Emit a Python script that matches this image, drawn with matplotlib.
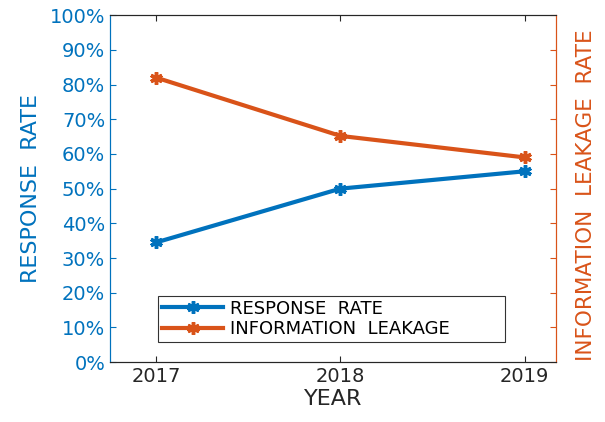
import matplotlib
matplotlib.use("Agg")
import matplotlib.pyplot as plt

# Data
years = [2017, 2018, 2019]
response_rate = [0.345, 0.50, 0.55]
leakage = [0.82, 0.652, 0.59]
y_ticks = [i / 10 for i in range(11)]
y_tick_labels = [f"{int(round(t * 100))}%" for t in y_ticks]

blue = "#0072BD"
orange = "#D95319"
dark = "#262626"

plt.rcParams["font.family"] = "DejaVu Sans"

fig = plt.figure(figsize=(6.05, 4.22), dpi=100)
ax = fig.add_axes([0.182, 0.142, 0.737, 0.822])

# MATLAB-like asterisk marker
star = (6, 2, 0)
l1, = ax.plot(years, response_rate, color=blue, lw=3, marker=star, ms=9,
              mew=2.5, label="RESPONSE  RATE")
l2, = ax.plot(years, leakage, color=orange, lw=3, marker=star, ms=9,
              mew=2.5, label="INFORMATION  LEAKAGE")

ax.set_xlim(2016.75, 2019.17)
ax.set_ylim(0, 1)
ax.set_xticks(years)
ax.set_xticklabels([str(y) for y in years])
ax.set_yticks(y_ticks)
ax.set_yticklabels(y_tick_labels)
ax.tick_params(axis="both", direction="in", labelsize=14, length=4)
ax.tick_params(axis="y", colors=blue, labelcolor=blue)
ax.tick_params(axis="x", colors=dark, labelcolor=dark)
ax.tick_params(top=True, which="both")
ax.set_xlabel("YEAR", fontsize=16, color=dark, labelpad=2)
ax.set_ylabel("RESPONSE  RATE", fontsize=16, color=blue, labelpad=6)

# right axis: ticks only
ax2 = ax.twinx()
ax2.set_ylim(0, 1)
ax2.set_yticks(y_ticks)
ax2.set_yticklabels([])
ax2.tick_params(axis="y", direction="in", colors=orange, length=4)
ax2.set_ylabel("INFORMATION  LEAKAGE  RATE", fontsize=15.5, color=orange)
ax2.yaxis.set_label_coords(1.045, 0.48)

for a in (ax, ax2):
    a.spines["left"].set_color(blue)
    a.spines["right"].set_color(orange)
    a.spines["top"].set_color(dark)
    a.spines["bottom"].set_color(dark)
    for s in a.spines.values():
        s.set_linewidth(0.8)

leg = ax.legend(handles=[l1, l2], loc="lower left",
                bbox_to_anchor=(0.108, 0.058, 0.778, 0.135), mode="expand",
                fontsize=13, handlelength=3.4, frameon=True, fancybox=False,
                borderpad=0.2, labelspacing=0.15, handletextpad=0.4,
                borderaxespad=0)
leg.get_frame().set_edgecolor("black")
leg.get_frame().set_linewidth(0.8)

fig.savefig("out.png", dpi=100)
